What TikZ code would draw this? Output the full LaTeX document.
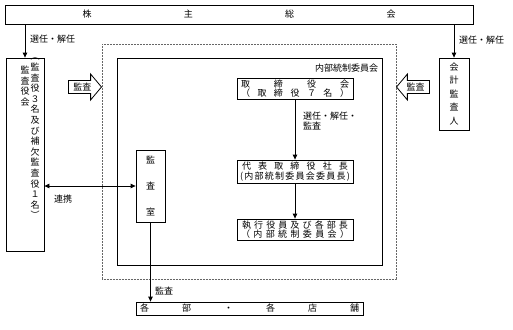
\documentclass[tikz,border=0pt]{standalone}
\usepackage{fontspec}
\setmainfont{Noto Sans CJK JP}
\usepackage{tikz}
\usetikzlibrary{positioning,arrows.meta,shapes.arrows}
\newcommand{\spreadtext}[2]{\makebox[#1][s]{#2}}
\newcommand{\jpsize}{\fontsize{9}{9.5}\selectfont}

\begin{document}
\begin{tikzpicture}[x=1pt,y=-1pt,font=\jpsize,>={Triangle[length=5pt,width=4.5pt]},
  box/.style={draw,line width=0.8pt,inner sep=0pt,align=center},
  frame/.style={draw,line width=0.8pt,inner sep=0pt},
  dotframe/.style={draw,black!60,line width=0.8pt,dash pattern=on 0.6pt off 0.9pt,inner sep=0pt},
  vcol/.style={inner sep=0pt,align=center},
  lbl/.style={inner sep=0pt,align=left},
  blk/.style={draw,line width=0.8pt,single arrow,single arrow head extend=6.5pt,
    single arrow tip angle=100,minimum height=33pt,inner sep=2pt}]
  \useasboundingbox (0,0) rectangle (513,329);
  % top row
  \node[box,minimum width=468pt,minimum height=19pt] (agm) at (239,14.5)
    {\spreadtext{313pt}{株\hfill 主\hfill 総\hfill 会}};
  % side boxes
  \node[frame,minimum width=38pt,minimum height=193pt] (acb) at (25,154.5) {};
  \node[vcol,anchor=north,font=\fontsize{9}{10.6}\selectfont] (acbname) at (25,66)
    {監\\査\\役\\会};
  \node[vcol,anchor=north,font=\fontsize{9}{10.6}\selectfont] (acbmem) at (35,58)
    {︵\\監\\査\\役\\３\\名\\及\\び\\補\\欠\\監\\査\\役\\１\\名\\︶};
  \node[box,minimum width=30pt,minimum height=72pt,font=\fontsize{9}{13.5}\selectfont] (auditor) at (454,94)
    {会\\計\\監\\査\\人};
  % internal control frames
  \node[dotframe,minimum width=294pt,minimum height=235pt] (ic) at (249,161.5) {};
  \node[frame,minimum width=265pt,minimum height=207pt] (icc) at (249.5,161.5) {};
  \node[lbl,anchor=north east] (icclbl) at ([xshift=-4pt,yshift=-6pt]icc.north east) {内部統制委員会};
  \node[box,minimum width=116pt,minimum height=21pt] (board) at (295,88.5)
    {\spreadtext{108pt}{取\hfill 締\hfill 役\hfill 会}\\
     \spreadtext{108pt}{（\hfill 取\hfill 締\hfill 役\hfill ７\hfill 名\hfill ）}};
  \node[box,minimum width=116pt,minimum height=23pt] (president) at (295,171.5)
    {\spreadtext{106pt}{代\hfill 表\hfill 取\hfill 締\hfill 役\hfill 社\hfill 長}\\
     \spreadtext{110pt}{(\hfill 内\hfill 部\hfill 統\hfill 制\hfill 委\hfill 員\hfill 会\hfill 委\hfill 員\hfill 長\hfill )}};
  \node[box,minimum width=116pt,minimum height=21pt] (officers) at (295,229.5)
    {\spreadtext{106pt}{執\hfill 行\hfill 役\hfill 員\hfill 及\hfill び\hfill 各\hfill 部\hfill 長}\\
     \spreadtext{108pt}{（\hfill 内\hfill 部\hfill 統\hfill 制\hfill 委\hfill 員\hfill 会\hfill ）}};
  \node[box,minimum width=29pt,minimum height=72pt,font=\fontsize{9}{26}\selectfont] (audit) at (150.5,186)
    {監\\査\\室};
  \node[box,minimum width=227pt,minimum height=13pt] (branches) at (249.5,308.5)
    {\spreadtext{219pt}{各\hfill 部\hfill ・\hfill 各\hfill 店\hfill 舗}};
  % block arrows
  \node[blk,anchor=tip] (auditL) at (102,87) {監査};
  \node[blk,anchor=tip,shape border rotate=180] (auditR) at (396,87) {監査};
  % connectors
  \draw[->,line width=0.8pt] (agm.south -| acb) -- (acb.north);
  \node[lbl,anchor=west] (electL) at (30,39) {選任・解任};
  \draw[->,line width=0.8pt] (agm.south -| auditor) -- (auditor.north);
  \node[lbl,anchor=west] (electR) at (459,40) {選任・解任};
  \draw[<->,line width=0.8pt] (acb.east |- audit.west) -- (audit.west);
  \node[lbl,anchor=west] (coop) at (54,199) {連携};
  \draw[->,line width=0.8pt] (board.south) -- (president.north);
  \node[lbl,anchor=north west] (electC) at (303,112) {選任・解任・\\監査};
  \draw[->,line width=0.8pt] (president.south) -- (officers.north);
  \draw[->,line width=0.8pt] (audit.south) -- (audit.south |- branches.north);
  \node[lbl,anchor=west] (auditB) at (155,291) {監査};
\end{tikzpicture}
\end{document}
